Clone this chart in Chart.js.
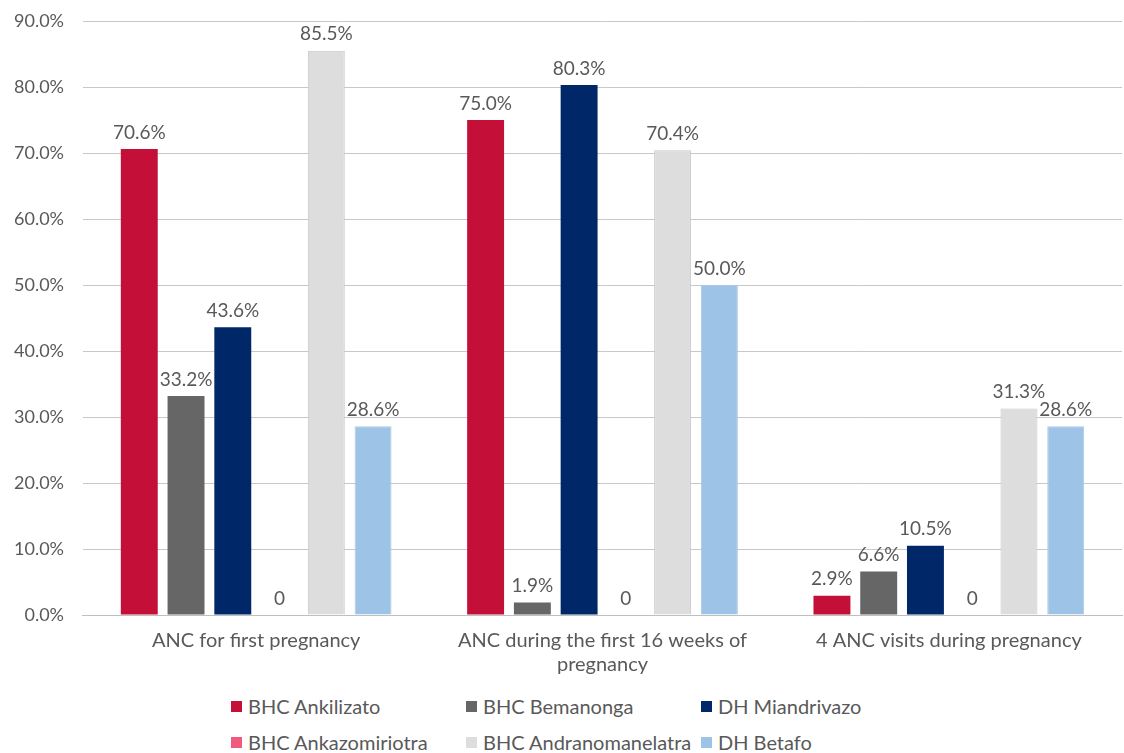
<!DOCTYPE html>
<html><head><meta charset="utf-8">
<script src="https://cdn.jsdelivr.net/npm/chart.js@4"></script>
<style>
html,body{margin:0;padding:0;background:#fff;}
#wrap{position:absolute;left:0;top:0;width:1124px;height:691px;}
#legend{position:absolute;left:231px;top:694px;width:720px;display:grid;grid-template-columns:235px 235px 240px;row-gap:12px;font-family:Lato,"Open Sans",sans-serif;font-size:20px;color:#595959;}
#legend div{display:flex;align-items:center;white-space:nowrap;height:24px;}
#legend span.b{display:inline-block;width:11px;height:11px;margin-right:6px;}
</style></head>
<body>
<div id="wrap"><canvas id="c" width="1124" height="691"></canvas></div>
<div id="legend"></div>
<script>
const categories = ["ANC for first pregnancy", ["ANC during the first 16 weeks of", "pregnancy"], "4 ANC visits during pregnancy"];
const seriesNames = ["BHC Ankilizato", "BHC Bemanonga", "DH Miandrivazo", "BHC Ankazomiriotra", "BHC Andranomanelatra", "DH Betafo"];
const ankilizato = [70.6, 75.0, 2.9];
const bemanonga = [33.2, 1.9, 6.6];
const miandrivazo = [43.6, 80.3, 10.5];
const ankazomiriotra = [0, 0, 0];
const andranomanelatra = [85.5, 70.4, 31.3];
const betafo = [28.6, 50.0, 28.6];
const yTicks = [0, 10, 20, 30, 40, 50, 60, 70, 80, 90];

const colors = ["#C41039", "#666666", "#002868", "#F05A7E", "#DDDDDD", "#9DC3E6"];
const borders = ["#C41039", "#666666", "#002868", "#F05A7E", "#C8C8C8", "#A9C8E6"];
const seriesData = [ankilizato, bemanonga, miandrivazo, ankazomiriotra, andranomanelatra, betafo];

const FONT = 'Lato, "Open Sans", sans-serif';
const TXT = '#595959';

const labelPlugin = {
  id: 'barLabels',
  afterDatasetsDraw(chart) {
    const ctx = chart.ctx;
    ctx.save();
    ctx.font = '19px ' + FONT;
    ctx.fillStyle = TXT;
    ctx.textAlign = 'center';
    ctx.textBaseline = 'bottom';
    chart.data.datasets.forEach((ds, i) => {
      const meta = chart.getDatasetMeta(i);
      meta.data.forEach((el, j) => {
        const v = ds.data[j];
        const txt = v === 0 ? '0' : v.toFixed(1) + '%';
        ctx.fillText(txt, el.x, el.y - 7);
      });
    });
    ctx.restore();
  }
};

const legendEl = document.getElementById('legend');
seriesNames.forEach((n, i) => {
  const d = document.createElement('div');
  d.innerHTML = '<span class="b" style="background:' + colors[i] + '"></span>' + n;
  legendEl.appendChild(d);
});

new Chart(document.getElementById('c'), {
  type: 'bar',
  data: {
    labels: categories,
    datasets: seriesNames.map((n, i) => ({
      label: n,
      data: seriesData[i],
      backgroundColor: colors[i],
      borderColor: borders[i],
      borderWidth: (i >= 4) ? 1 : 0,
      categoryPercentage: 0.81,
      barPercentage: 0.79
    }))
  },
  options: {
    responsive: false,
    animation: false,
    layout: { padding: { top: 0, right: 2, left: -5, bottom: 0 } },
    plugins: { legend: { display: false }, tooltip: { enabled: false } },
    scales: {
      x: {
        grid: { display: false, drawTicks: false },
        border: { color: '#BFBFBF', width: 1 },
        ticks: { color: TXT, font: { family: FONT, size: 20, lineHeight: 1.2 }, padding: 14, maxRotation: 0 }
      },
      y: {
        min: 0, max: 90,
        afterBuildTicks(axis) { axis.ticks = yTicks.map(v => ({ value: v })); },
        afterFit(axis) { axis.paddingTop = 21; axis.paddingBottom = 0; },
        grid: { color: '#C8C8C8', drawTicks: false },
        border: { display: false },
        ticks: { color: TXT, font: { family: FONT, size: 18 }, padding: 19, callback: v => v.toFixed(1) + '%' }
      }
    }
  },
  plugins: [labelPlugin]
});
</script>
</body></html>
